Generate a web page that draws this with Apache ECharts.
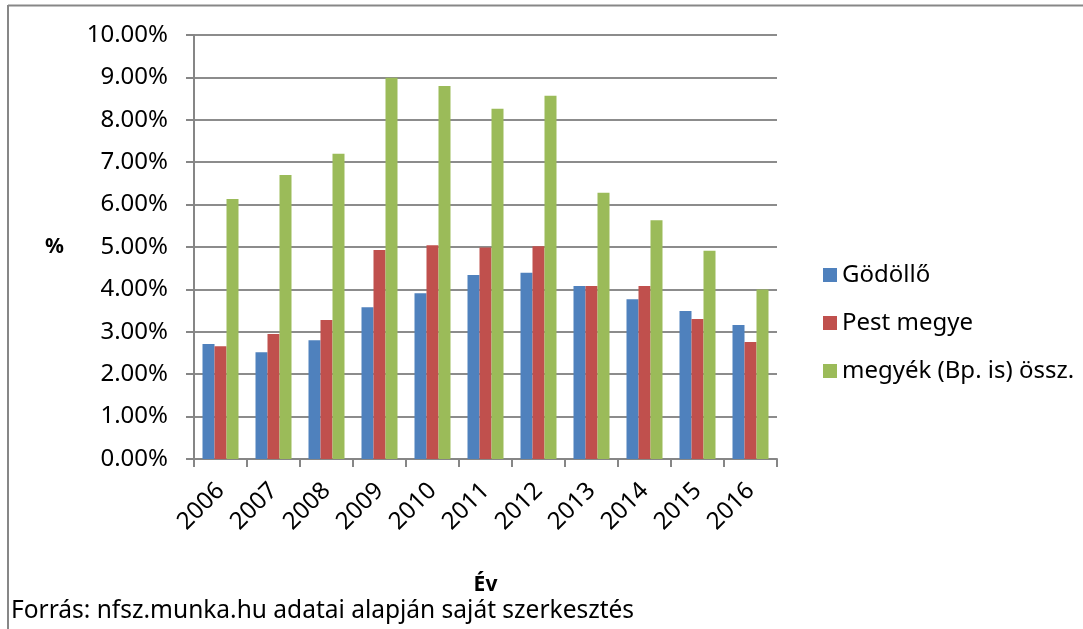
<!DOCTYPE html>
<html>
<head>
<meta charset="utf-8">
<script src="https://cdn.jsdelivr.net/npm/echarts@6/dist/echarts.min.js"></script>
<style>
html,body{margin:0;padding:0;background:#fff;}
#c{width:1083px;height:629px;}
</style>
</head>
<body>
<div id="c"></div>
<script>
const years = ['2006','2007','2008','2009','2010','2011','2012','2013','2014','2015','2016'];
const godollo = [2.71, 2.52, 2.80, 3.58, 3.91, 4.34, 4.39, 4.08, 3.77, 3.49, 3.16];
const pestMegye = [2.66, 2.95, 3.28, 4.93, 5.04, 4.99, 5.02, 4.08, 4.08, 3.30, 2.76];
const megyekOssz = [6.13, 6.70, 7.20, 8.99, 8.80, 8.26, 8.57, 6.28, 5.63, 4.91, 4.00];
const seriesNames = ['Gödöllő', 'Pest megye', 'megyék (Bp. is) össz.'];
const yTicks = { min: 0, max: 10, interval: 1 };

const FONT = '"Noto Sans", "DejaVu Sans", sans-serif';
const chart = echarts.init(document.getElementById('c'), null, { renderer: 'canvas' });

function bar(name, data, color) {
  return {
    name: name, type: 'bar', data: data,
    barWidth: 12, barGap: '0%',
    itemStyle: { color: color },
    emphasis: { disabled: true }
  };
}

chart.setOption({
  animation: false,
  backgroundColor: '#fff',
  textStyle: { fontFamily: FONT },
  grid: { left: 194, right: 306, top: 35, bottom: 170, containLabel: false },
  xAxis: {
    type: 'category',
    data: years,
    name: 'Év',
    nameLocation: 'middle',
    nameGap: 116,
    nameTextStyle: { fontFamily: FONT, fontSize: 21, fontWeight: 'bold', color: '#000' },
    axisLine: { lineStyle: { color: '#868686', width: 2 } },
    axisTick: { show: true, length: 8, lineStyle: { color: '#868686', width: 2 } },
    axisLabel: { rotate: 45, margin: 28, fontFamily: FONT, fontSize: 24, color: '#000' }
  },
  yAxis: {
    type: 'value',
    min: yTicks.min, max: yTicks.max, interval: yTicks.interval,
    name: '%',
    nameLocation: 'middle',
    nameRotate: 0,
    nameGap: 130,
    nameTextStyle: { fontFamily: FONT, fontSize: 21, fontWeight: 'bold', color: '#000' },
    axisLine: { show: true, lineStyle: { color: '#868686', width: 2 } },
    axisTick: { show: true, length: 8, lineStyle: { color: '#868686', width: 2 } },
    splitLine: { show: true, lineStyle: { color: '#8c8c8c', width: 2 } },
    axisLabel: {
      margin: 26, fontFamily: FONT, fontSize: 24, color: '#000',
      formatter: v => v.toFixed(2) + '%'
    }
  },
  legend: {
    orient: 'vertical',
    left: 818, top: 258,
    itemWidth: 14, itemHeight: 14, itemGap: 24,
    icon: 'rect',
    textStyle: { fontFamily: FONT, fontSize: 24, color: '#000', lineHeight: 24 },
    data: seriesNames
  },
  series: [
    bar(seriesNames[0], godollo, '#4F81BD'),
    bar(seriesNames[1], pestMegye, '#C0504D'),
    bar(seriesNames[2], megyekOssz, '#9BBB59')
  ],
  graphic: [
    { type: 'line', shape: { x1: 8, y1: 5.5, x2: 1083, y2: 5.5 }, style: { stroke: '#878787', lineWidth: 2 }, silent: true },
    { type: 'line', shape: { x1: 8, y1: 5, x2: 8, y2: 629 }, style: { stroke: '#878787', lineWidth: 2 }, silent: true },
    { type: 'text', left: 11, top: 599, style: { text: 'Forrás: nfsz.munka.hu adatai alapján saját szerkesztés', font: '24.5px ' + FONT, fill: '#000' }, silent: true }
  ]
});
</script>
</body>
</html>
